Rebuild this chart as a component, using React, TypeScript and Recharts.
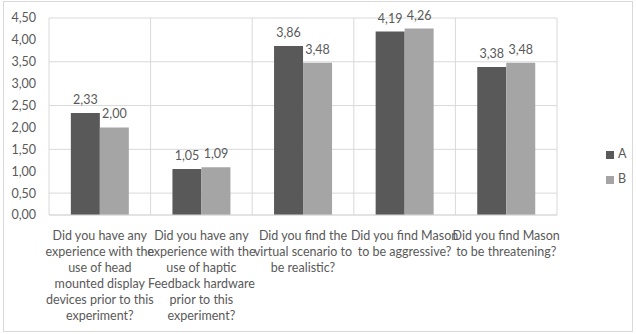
import React from "react";
import {
  Bar,
  BarChart,
  CartesianGrid,
  LabelList,
  Legend,
  XAxis,
  YAxis,
} from "recharts";

const questions = [
  "Did you have any\nexperience with the\nuse of head\nmounted display\ndevices prior to this\nexperiment?",
  "Did you have any\nexperience with the\nuse of haptic\nFeedback hardware\nprior to this\nexperiment?",
  "Did you find the\nvirtual scenario to\nbe realistic?",
  "Did you find Mason\nto be aggressive?",
  "Did you find Mason\nto be threatening?",
];
const seriesA = [2.33, 1.05, 3.86, 4.19, 3.38];
const seriesB = [2.0, 1.09, 3.48, 4.26, 3.48];
const yTicks = [0, 0.5, 1, 1.5, 2, 2.5, 3, 3.5, 4, 4.5];

const data = questions.map((q, i) => ({ q, A: seriesA[i], B: seriesB[i] }));

const FONT = "Lato, 'Open Sans', sans-serif";
const TEXT = "#595959";
const GRID = "#d9d9d9";

const fmt = (v: number) => v.toFixed(2).replace(".", ",");

function QuestionTick(props: any) {
  const { x, y, payload } = props;
  const lines = String(payload.value).split("\n");
  return (
    <text
      x={x}
      y={y}
      textAnchor="middle"
      fill={TEXT}
      fontSize={12.5}
      fontFamily={FONT}
    >
      {lines.map((l, i) => (
        <tspan key={i} x={x} dy={i === 0 ? 17 : 16}>
          {l}
        </tspan>
      ))}
    </text>
  );
}

export default function App() {
  return (
    <div
      style={{
        position: "absolute",
        left: 0,
        top: 0,
        width: 636,
        height: 334,
        background: "#fff",
        fontFamily: FONT,
      }}
    >
      <div
        style={{
          position: "absolute",
          left: 3,
          top: 1,
          width: 628,
          height: 329,
          border: `1px solid ${GRID}`,
        }}
      />
      <BarChart
        width={636}
        height={334}
        data={data}
        margin={{ top: 18, right: 49, bottom: 0, left: 0 }}
        barGap={0}
        barCategoryGap="21.5%"
      >
        <CartesianGrid
          stroke={GRID}
          verticalCoordinatesGenerator={({ offset }: any) =>
            [0, 1, 2, 3, 4, 5].map(
              (i) => offset.left + (i * offset.width) / questions.length
            )
          }
        />
        <XAxis
          dataKey="q"
          interval={0}
          height={119}
          tickLine={false}
          axisLine={{ stroke: GRID }}
          tick={<QuestionTick />}
        />
        <YAxis
          width={49}
          domain={[0, 4.5]}
          ticks={yTicks}
          tickFormatter={fmt}
          axisLine={false}
          tickLine={false}
          tick={{ fill: TEXT, fontSize: 12.5, fontFamily: FONT, dx: -5 }}
        />
        <Legend
          layout="vertical"
          align="right"
          verticalAlign="middle"
          iconType="square"
          iconSize={8}
          wrapperStyle={{ left: 606, top: 141, width: 30, fontSize: 12.5, lineHeight: "25px" }}
          formatter={(v: string) => <span style={{ color: TEXT }}>{v}</span>}
        />
        <Bar dataKey="A" fill="#595959" isAnimationActive={false}>
          <LabelList
            dataKey="A"
            position="top"
            offset={9}
            formatter={(v: any) => fmt(Number(v))}
            style={{ fill: TEXT, fontSize: 12.5, fontFamily: FONT }}
          />
        </Bar>
        <Bar dataKey="B" fill="#a5a5a5" isAnimationActive={false}>
          <LabelList
            dataKey="B"
            position="top"
            offset={9}
            formatter={(v: any) => fmt(Number(v))}
            style={{ fill: TEXT, fontSize: 12.5, fontFamily: FONT }}
          />
        </Bar>
      </BarChart>
    </div>
  );
}
